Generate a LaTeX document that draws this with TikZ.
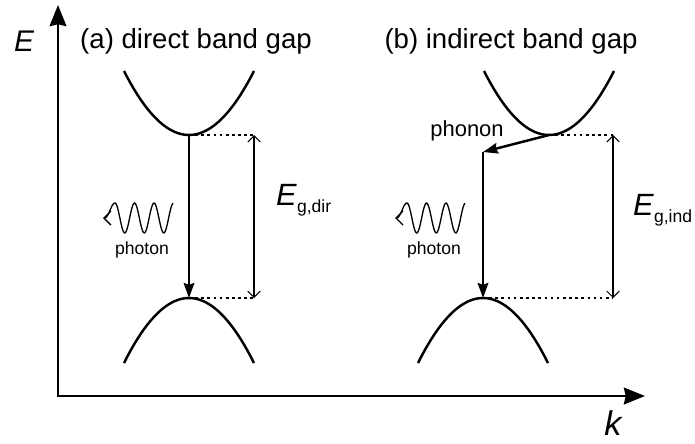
\documentclass[tikz,border=0pt]{standalone}
\usepackage{fontspec}
\setmainfont{Liberation Sans}
\usetikzlibrary{arrows.meta}

\begin{document}
\begin{tikzpicture}[x=0.02cm, y=-0.02cm,
    axisline/.style={line width=1.4pt, line join=miter, {Stealth[length=12pt, width=9.5pt, inset=1pt]}-{Stealth[length=12pt, width=9.5pt, inset=1pt]}},
    band/.style={line width=1.4pt},
    trans/.style={line width=1.4pt, -{Stealth[length=8.5pt, width=6pt, inset=1pt]}},
    gap/.style={line width=0.6pt, {Straight Barb[length=3.5pt, width=7pt]}-{Straight Barb[length=3.5pt, width=7pt]}},
    guide/.style={line width=0.7pt, dash pattern=on 1.5pt off 2pt},
    photon/.style={line width=0.75pt, {Straight Barb[length=4pt, width=8pt]}-},
    paneltitle/.style={font=\fontsize{15.7}{18}\selectfont},
    note/.style={font=\fontsize{10}{12}\selectfont}
]
\useasboundingbox (0,0) rectangle (695,443);

% Axes
\coordinate (origin) at (58,396);
\coordinate (Etip) at (58,5);
\coordinate (ktip) at (645,396);
\draw[axisline] (Etip) -- (origin) -- (ktip);
\node[font=\fontsize{17}{20}\selectfont\itshape] (Elabel) at (24,41) {E};
\node[anchor=base, inner sep=0pt, font=\fontsize{19.5}{23}\selectfont\itshape] (klabel) at (613,435) {k};

% Titles
\node[paneltitle] (titleA) at (196,41) {(a) direct band gap};
\node[paneltitle] (titleB) at (511,41) {(b) indirect band gap};

% Band extrema
\coordinate (cbA) at (189,135);
\coordinate (vbA) at (189,298);
\coordinate (cbB) at (549,135);
\coordinate (phB) at (483,152);
\coordinate (vbB) at (483,298);
\coordinate (gapAtop) at (254,135);
\coordinate (gapAbot) at (254,298);
\coordinate (gapBtop) at (613,135);
\coordinate (gapBbot) at (613,298);

% (a) direct
\draw[band] plot[domain=-65:65, samples=40] ({189+\x},{135-64*(\x/65)^2});
\draw[band] plot[domain=-65:65, samples=40] ({189+\x},{298+65*(\x/65)^2});
\draw[trans] (cbA) -- (vbA);
\draw[guide] (cbA) -- (gapAtop);
\draw[guide] (vbA) -- (gapAbot);
\draw[gap] (gapAtop) -- (gapAbot);
\node[anchor=base west, font=\fontsize{17.5}{20}\selectfont] (EgA) at (270,205)
    {\textit{E}\raisebox{-4pt}{\fontsize{10}{12}\selectfont g,dir}};
\draw[photon] (103,218) .. controls (109,218) and (111,203) .. (115,203)
    -- plot[domain=0:58, samples=60] ({115+\x},{218-15*cos(18.46*\x)});
\node[note] (photonA) at (142,250) {photon};

% (b) indirect
\draw[band] plot[domain=-65:65, samples=40] ({549+\x},{135-64*(\x/65)^2});
\draw[band] plot[domain=-65:65, samples=40] ({483+\x},{298+65*(\x/65)^2});
\draw[trans] (cbB) -- (phB);
\draw[trans] (phB) -- (vbB);
\node[font=\fontsize{12.5}{15}\selectfont] (phonon) at (467,131) {phonon};
\draw[guide] (cbB) -- (gapBtop);
\draw[guide] (vbB) -- (gapBbot);
\draw[gap] (gapBtop) -- (gapBbot);
\node[anchor=base west, font=\fontsize{17.5}{20}\selectfont] (EgB) at (627,215)
    {\textit{E}\raisebox{-4pt}{\fontsize{10}{12}\selectfont g,ind}};
\draw[photon] (395,218) .. controls (401,218) and (403,203) .. (407,203)
    -- plot[domain=0:58, samples=60] ({407+\x},{218-15*cos(18.46*\x)});
\node[note] (photonB) at (434,250) {photon};

\end{tikzpicture}
\end{document}
